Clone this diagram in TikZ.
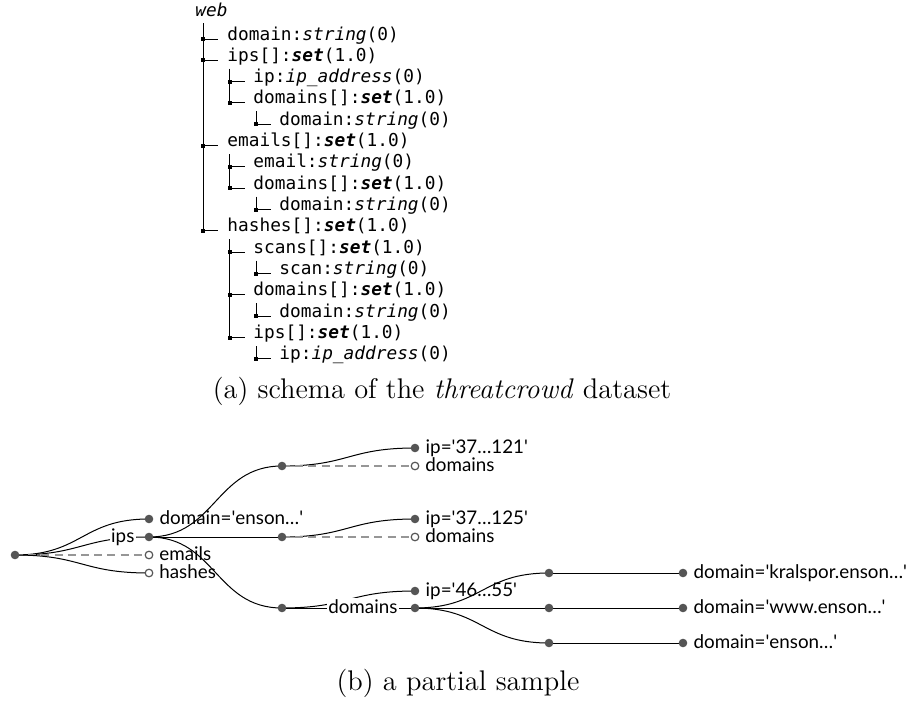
\documentclass[tikz,border=0pt]{standalone}
\usepackage{fontspec}
\newfontfamily\monofont{DejaVu Sans Mono}
\newfontfamily\latofont{Lato}
\usetikzlibrary{positioning,calc,backgrounds}
\newcommand\typ[1]{\textit{#1}}
\newcommand\sett{\textbf{\textit{set}}}
\newcommand\qt{\textquotesingle}
\definecolor{dotgray}{RGB}{85,85,85}
\definecolor{dashgray}{RGB}{150,150,150}

\begin{document}
\begin{tikzpicture}[x=0.5pt,y=-0.5pt,
  field/.style={anchor=base west,inner sep=1pt,text depth=0.25em,
    font=\monofont\fontsize{8.9}{10}\selectfont},
  mk/.style={rectangle,fill=black,inner sep=0,minimum size=2pt},
  branch/.style={line width=0.5pt},
  dot/.style={circle,fill=dotgray,inner sep=0,minimum size=4.3pt},
  hollow/.style={circle,draw=dotgray,fill=white,line width=0.6pt,inner sep=0,minimum size=3.8pt},
  lbl/.style={inner sep=0,text height=0.72em,text depth=0.2em,
    font=\latofont\fontsize{9.4}{11}\selectfont},
  elbl/.style={lbl,fill=white,inner sep=0.6pt},
  edge/.style={line width=0.5pt},
  miss/.style={line width=0.55pt,dashgray,dash pattern=on 4pt off 2.6pt},
  link/.style={to path={let \p1=(\tikztostart),\p2=(\tikztotarget) in
    .. controls ({(\x1+\x2)/2},\y1) and ({(\x1+\x2)/2},\y2) .. (\tikztotarget)}},
  capt/.style={inner sep=0,anchor=base,font=\rmfamily\fontsize{14.2}{17}\selectfont}]
\useasboundingbox (0,0) rectangle (912,702);

% schema tree
\node[field] (web) at (193,16) {\textit{web}};
\foreach \lv/\txt [count=\i] in {
  1/{domain:\typ{string}(0)},
  1/{ips[]:\sett(1.0)},
  2/{ip:\typ{ip\_address}(0)},
  2/{domains[]:\sett(1.0)},
  3/{domain:\typ{string}(0)},
  1/{emails[]:\sett(1.0)},
  2/{email:\typ{string}(0)},
  2/{domains[]:\sett(1.0)},
  3/{domain:\typ{string}(0)},
  1/{hashes[]:\sett(1.0)},
  2/{scans[]:\sett(1.0)},
  3/{scan:\typ{string}(0)},
  2/{domains[]:\sett(1.0)},
  3/{domain:\typ{string}(0)},
  2/{ips[]:\sett(1.0)},
  3/{ip:\typ{ip\_address}(0)}}{
  \node[field] (r\i) at ({225+26*(\lv-1)},{40+21.33*(\i-1)}) {\txt};
  \node[mk] (k\i) at ({203+26.5*(\lv-1)},{39+21.33*(\i-1)}) {};
  \draw[branch] (k\i.center) -- ++(15,0);
}
\draw[branch] (k1 |- web.south) -- (k10.center);
\foreach \p/\a/\b in {2/3/4,4/5/5,6/7/8,8/9/9,10/11/15,11/12/12,13/14/14,15/16/16}
  \draw[branch] (k\a |- r\p.south) -- (k\b.center);

\node[capt] (capa) at (442,398) {(a) schema of the \textit{threatcrowd} dataset};

% sample tree
\node[dot] (root) at (15,555) {};
\node[dot] (a1) at (149,519) {};
\node[dot] (a2) at (149,537) {};
\node[hollow] (a3) at (149,555) {};
\node[hollow] (a4) at (149,573) {};
\node[dot] (b1) at (282,466) {};
\node[dot] (b2) at (282,537) {};
\node[dot] (b3) at (282,608) {};
\node[dot] (c1) at (415,448) {};
\node[hollow] (c2) at (415,466) {};
\node[dot] (c3) at (415,519) {};
\node[hollow] (c4) at (415,537) {};
\node[dot] (c5) at (415,591) {};
\node[dot] (c6) at (415,608) {};
\node[dot] (d1) at (549,573) {};
\node[dot] (d2) at (549,608) {};
\node[dot] (d3) at (549,643) {};
\node[dot] (e1) at (683,573) {};
\node[dot] (e2) at (683,608) {};
\node[dot] (e3) at (683,643) {};

\begin{scope}[on background layer]
  \draw[edge] (root.center) to[link] (a1.center);
  \draw[edge] (root.center) to[link] (a2.center);
  \draw[miss] (root.center) -- (a3.center);
  \draw[edge] (root.center) to[link] (a4.center);
  \foreach \t in {b1,b2,b3}
    \draw[edge] (a2.center) to[link] (\t.center);
  \draw[edge] (b1.center) to[link] (c1.center);
  \draw[miss] (b1.center) -- (c2.center);
  \draw[edge] (b2.center) to[link] (c3.center);
  \draw[miss] (b2.center) -- (c4.center);
  \draw[edge] (b3.center) to[link] (c5.center);
  \draw[edge] (b3.center) -- (c6.center);
  \foreach \t in {d1,d2,d3}
    \draw[edge] (c6.center) to[link] (\t.center);
  \draw[edge] (d1.center) -- (e1.center);
  \draw[edge] (d2.center) -- (e2.center);
  \draw[edge] (d3.center) -- (e3.center);
\end{scope}

\node[elbl,anchor=east] (ipsl) at ([xshift=-6.5pt]a2.center) {ips};
\node[elbl,anchor=east] (doml) at ([xshift=-8pt]c6.center) {domains};

\node[lbl,right=2.8pt of a1] (a1t) {domain=\qt enson…\qt};
\node[lbl,right=2.8pt of a3] (a3t) {emails};
\node[lbl,right=2.8pt of a4] (a4t) {hashes};
\node[lbl,right=2.8pt of c1] (c1t) {ip=\qt 37…121\qt};
\node[lbl,right=2.8pt of c2] (c2t) {domains};
\node[lbl,right=2.8pt of c3] (c3t) {ip=\qt 37…125\qt};
\node[lbl,right=2.8pt of c4] (c4t) {domains};
\node[lbl,right=2.8pt of c5] (c5t) {ip=\qt 46…55\qt};
\node[lbl,right=2.8pt of e1] (e1t) {domain=\qt kralspor.enson…\qt};
\node[lbl,right=2.8pt of e2] (e2t) {domain=\qt www.enson…\qt};
\node[lbl,right=2.8pt of e3] (e3t) {domain=\qt enson…\qt};

\node[capt] (capb) at (458,690) {(b) a partial sample};
\end{tikzpicture}
\end{document}
